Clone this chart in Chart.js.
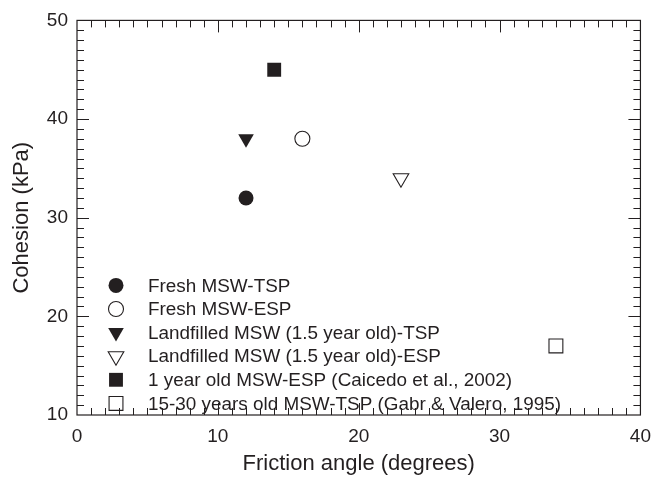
<!DOCTYPE html>
<html>
<head>
<meta charset="utf-8">
<script src="https://cdn.jsdelivr.net/npm/chart.js@4"></script>
<style>
  html, body { margin: 0; padding: 0; background: #fff; }
  #wrap { width: 661px; height: 486px; }
</style>
</head>
<body>
<div id="wrap"><canvas id="chartShear"></canvas></div>
<script>
// shear strength parameters of MSW samples
const seriesNames = [
  'Fresh MSW-TSP',
  'Fresh MSW-ESP',
  'Landfilled MSW (1.5 year old)-TSP',
  'Landfilled MSW (1.5 year old)-ESP',
  '1 year old MSW-ESP (Caicedo et al., 2002)',
  '15-30 years old MSW-TSP (Gabr & Valero, 1995)'
];
const frictionAngle = [12, 16, 12, 23, 14, 34];
const cohesion = [32, 38, 38, 34, 45, 17];

const xRange = [0, 40];
const yRange = [10, 50];

// marker look per series
const markerStyle = ['circle', 'circle', 'triangle', 'triangle', 'rect', 'rect'];
const markerFilled = [true, false, true, false, true, false];
const markerRotation = [0, 0, 180, 180, 0, 0];
const markerRadius = [7.5, 7.5, 9, 9, 9.8, 9.8];

const ink = '#231f20';
const fontFamily = "'Liberation Sans', Arial, Helvetica, sans-serif";

const datasets = seriesNames.map((name, i) => ({
  label: name,
  data: [{ x: frictionAngle[i], y: cohesion[i] }],
  pointStyle: markerStyle[i],
  rotation: markerRotation[i],
  pointRadius: markerRadius[i],
  pointHoverRadius: markerRadius[i],
  backgroundColor: markerFilled[i] ? ink : '#fff',
  borderColor: ink,
  borderWidth: markerFilled[i] ? 0 : 1.1
}));

// box frame with inward ticks on all four sides
const frameTicks = {
  id: 'frameTicks',
  afterDraw(chart) {
    const { ctx, chartArea: a, scales: { x, y } } = chart;
    ctx.save();
    ctx.strokeStyle = ink;
    ctx.lineWidth = 1.2;
    ctx.strokeRect(a.left, a.top, a.right - a.left, a.bottom - a.top);
    ctx.lineWidth = 1;
    ctx.beginPath();
    for (let v = xRange[0] + 1; v < xRange[1]; v++) {
      const px = Math.round(x.getPixelForValue(v)) + 0.5;
      const len = v % 10 === 0 ? 12 : 7;
      ctx.moveTo(px, a.bottom); ctx.lineTo(px, a.bottom - len);
      ctx.moveTo(px, a.top); ctx.lineTo(px, a.top + len);
    }
    for (let v = yRange[0] + 1; v < yRange[1]; v++) {
      const py = Math.round(y.getPixelForValue(v)) + 0.5;
      const len = v % 10 === 0 ? 12 : 7;
      ctx.moveTo(a.left, py); ctx.lineTo(a.left + len, py);
      ctx.moveTo(a.right, py); ctx.lineTo(a.right - len, py);
    }
    ctx.stroke();
    ctx.restore();
  }
};

// legend drawn inside the plot, lower left
const innerLegend = {
  id: 'innerLegend',
  afterDatasetsDraw(chart) {
    const { ctx, chartArea: a } = chart;
    const symX = a.left + 39;
    const textX = a.left + 71;
    const firstY = a.top + 265;
    const rowH = 23.6;
    ctx.save();
    ctx.font = '18.9px ' + fontFamily;
    ctx.textBaseline = 'middle';
    ctx.textAlign = 'left';
    chart.data.datasets.forEach((ds, i) => {
      const yy = firstY + i * rowH;
      ctx.fillStyle = ds.backgroundColor;
      ctx.strokeStyle = ds.borderColor;
      ctx.lineWidth = ds.borderWidth;
      Chart.helpers.drawPoint(ctx, {
        pointStyle: ds.pointStyle,
        rotation: ds.rotation,
        radius: ds.pointRadius,
        borderWidth: ds.borderWidth
      }, symX, yy);
      ctx.fillStyle = ink;
      ctx.fillText(ds.label, textX, yy + 1);
    });
    ctx.restore();
  }
};

const ctx = document.getElementById('chartShear').getContext('2d');
new Chart(ctx, {
  type: 'scatter',
  data: { datasets },
  plugins: [frameTicks, innerLegend],
  options: {
    responsive: true,
    maintainAspectRatio: false,
    animation: false,
    layout: { padding: { left: 0, top: 15, right: 12, bottom: 0 } },
    plugins: {
      legend: { display: false },
      tooltip: { enabled: false }
    },
    scales: {
      x: {
        min: xRange[0], max: xRange[1],
        afterFit(scale) { scale.height = 71; },
        grid: { display: false, drawTicks: false },
        border: { display: false },
        ticks: { stepSize: 10, padding: 10, color: ink, font: { family: fontFamily, size: 19 } },
        title: {
          display: true, text: 'Friction angle (degrees)', color: ink,
          padding: { top: 0, bottom: 9 },
          font: { family: fontFamily, size: 22 }
        }
      },
      y: {
        min: yRange[0], max: yRange[1],
        afterFit(scale) { scale.width = 77; },
        grid: { display: false, drawTicks: false },
        border: { display: false },
        ticks: { stepSize: 10, padding: 9, color: ink, font: { family: fontFamily, size: 19 } },
        title: {
          display: true, text: 'Cohesion (kPa)', color: ink,
          padding: { top: 9, bottom: 0 },
          font: { family: fontFamily, size: 22 }
        }
      }
    }
  }
});
</script>
</body>
</html>
